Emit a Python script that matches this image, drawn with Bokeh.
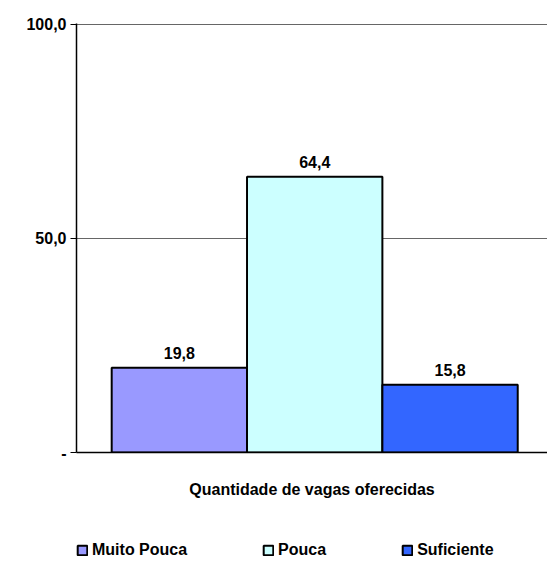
from bokeh.plotting import figure
from bokeh.models import Range1d, FixedTicker, Legend, LegendItem, ColumnDataSource
from bokeh.layouts import column
from bokeh.core.properties import value
from bokeh.embed import file_html
from bokeh.resources import INLINE

categories = ["Muito Pouca", "Pouca", "Suficiente"]
values = [19.8, 64.4, 15.8]
labels = ["19,8", "64,4", "15,8"]
colors = ["#9999FF", "#CCFFFF", "#3366FF"]
y_ticks = [0, 50, 100]
y_tick_labels = ["-", "50,0", "100,0"]
x_title = "Quantidade de vagas oferecidas"

FONT = "Liberation Sans"

p = figure(width=547, height=520, output_backend="svg", toolbar_location=None,
           x_range=Range1d(0.24, 3.72), y_range=Range1d(0, 100.2),
           min_border_left=76, min_border_right=0, min_border_top=23, min_border_bottom=68)
p.outline_line_color = None

src = ColumnDataSource(dict(x=[1, 2, 3], top=values, label=labels, color=colors))
for i in range(3):
    p.vbar(x=[i + 1], top=[values[i]], width=1.0, fill_color=colors[i],
           line_color="black", line_width=2)

p.text(x="x", y="top", text="label", source=src, text_align="center", text_baseline="bottom",
       y_offset=-9, text_font=value(FONT), text_font_style="bold", text_font_size="16px",
       text_color="black")

p.yaxis.ticker = FixedTicker(ticks=y_ticks)
p.yaxis.major_label_overrides = {t: l for t, l in zip(y_ticks, y_tick_labels)}
p.yaxis.major_label_text_font = FONT
p.yaxis.major_label_text_font_style = "bold"
p.yaxis.major_label_text_font_size = "16px"
p.yaxis.major_label_text_color = "black"
p.yaxis.axis_line_color = "black"
p.yaxis.axis_line_width = 1.5
p.yaxis.major_tick_line_color = "black"
p.yaxis.major_tick_in = 0
p.yaxis.major_tick_out = 6
p.yaxis.minor_tick_line_color = None
p.yaxis.major_label_standoff = 4

p.xaxis.ticker = FixedTicker(ticks=[])
p.xaxis.axis_line_color = "black"
p.xaxis.axis_line_width = 1.5
p.xaxis.minor_tick_line_color = None
p.xaxis.major_tick_line_color = None
p.xaxis.axis_label = x_title
p.xaxis.axis_label_text_font = FONT
p.xaxis.axis_label_text_font_style = "bold"
p.xaxis.axis_label_text_font_size = "16px"
p.xaxis.axis_label_text_color = "black"
p.xaxis.axis_label_standoff = 28

p.xgrid.grid_line_color = None
p.ygrid.ticker = FixedTicker(ticks=[50, 100])
p.ygrid.grid_line_color = "#666666"
p.ygrid.grid_line_width = 1

# legend strip below the chart (its own small figure, no axes)
lg = figure(width=547, height=42, output_backend="svg", toolbar_location=None,
            x_axis_type=None, y_axis_type=None,
            x_range=Range1d(0.24, 3.72), y_range=Range1d(0, 100),
            min_border_left=76, min_border_right=0, min_border_top=0, min_border_bottom=0)
lg.grid.grid_line_color = None
lg.outline_line_color = None
items = []
for i in range(3):
    r = lg.vbar(x=[i + 1], top=[values[i]], width=1.0, fill_color=colors[i],
                line_color="black", line_width=2)
    r.visible = False
    items.append(LegendItem(label=categories[i], renderers=[r]))

legend = Legend(items=items, orientation="horizontal", location=(0, 3), padding=0, margin=0,
                spacing=75, label_standoff=4, glyph_width=12, glyph_height=12,
                border_line_color=None, background_fill_alpha=0,
                inactive_fill_alpha=0,
                label_text_font=FONT, label_text_font_style="bold", label_text_font_size="16px",
                label_text_color="black")
lg.add_layout(legend, "center")

layout = column(p, lg, spacing=0)
open("out.html", "w").write(file_html(layout, INLINE))
